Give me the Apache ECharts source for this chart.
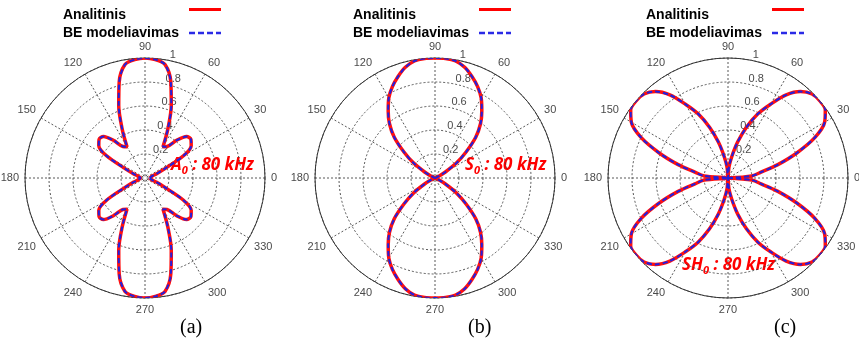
<!DOCTYPE html>
<html><head><meta charset="utf-8">
<script src="https://cdn.jsdelivr.net/npm/echarts@6/dist/echarts.min.js"></script>
<style>html,body{margin:0;padding:0;background:#fff}#c{width:859px;height:340px}</style>
</head><body><div id="c"></div>
<script>
// angle samples (degrees)
const angles = [0,5,10,15,20,25,30,35,40,45,50,55,60,65,70,75,80,85,90,
  95,100,105,110,115,120,125,130,135,140,145,150,155,160,165,170,175,180,
  185,190,195,200,205,210,215,220,225,230,235,240,245,250,255,260,265,270,
  275,280,285,290,295,300,305,310,315,320,325,330,335,340,345,350,355,360];

// (a) A0 mode, normalized amplitude
const a0Values = [0.04,0.04,0.05,0.06,0.10,0.18,0.37,0.47,0.50,0.49,0.41,0.32,0.30,0.45,0.64,0.83,0.96,0.99,1.00,
  0.99,0.96,0.83,0.64,0.45,0.30,0.32,0.41,0.49,0.50,0.47,0.37,0.18,0.10,0.06,0.05,0.04,0.04,
  0.04,0.05,0.06,0.10,0.18,0.37,0.47,0.50,0.49,0.41,0.32,0.30,0.45,0.64,0.83,0.96,0.99,1.00,
  0.99,0.96,0.83,0.64,0.45,0.30,0.32,0.41,0.49,0.50,0.47,0.37,0.18,0.10,0.06,0.05,0.04,0.04];
// (b) S0 mode
const s0Values = [0.00,0.00,0.00,0.00,0.01,0.03,0.10,0.22,0.34,0.48,0.59,0.68,0.77,0.84,0.90,0.955,0.99,1.00,1.00,
  1.00,0.99,0.955,0.90,0.84,0.77,0.68,0.59,0.48,0.34,0.22,0.10,0.03,0.01,0.00,0.00,0.00,0.00,
  0.00,0.00,0.00,0.01,0.03,0.10,0.22,0.34,0.48,0.59,0.68,0.77,0.84,0.90,0.955,0.99,1.00,1.00,
  1.00,0.99,0.955,0.90,0.84,0.77,0.68,0.59,0.48,0.34,0.22,0.10,0.03,0.01,0.00,0.00,0.00,0.00];
// (c) SH0 mode
const sh0Values = [0.00,0.20,0.28,0.43,0.61,0.80,0.93,0.99,1.00,0.99,0.94,0.845,0.71,0.59,0.45,0.31,0.18,0.09,0.00,
  0.09,0.18,0.31,0.45,0.59,0.71,0.845,0.94,0.99,1.00,0.99,0.93,0.80,0.61,0.43,0.28,0.20,0.00,
  0.20,0.28,0.43,0.61,0.80,0.93,0.99,1.00,0.99,0.94,0.845,0.71,0.59,0.45,0.31,0.18,0.09,0.00,
  0.09,0.18,0.31,0.45,0.59,0.71,0.845,0.94,0.99,1.00,0.99,0.93,0.80,0.61,0.43,0.28,0.20,0.00];

const angleTickLabels = ['0','30','60','90','120','150','180','210','240','270','300','330'];
const radiusTickLabels = ['','0.2','0.4','0.6','0.8','1'];
const seriesNames = ['Analitinis','BE modeliavimas'];
const panelLabels = ['(a)','(b)','(c)'];

const panels = [
  {values: a0Values, cx: 145, cy: 178, mode: 'A', tx: 171, ty: 168},
  {values: s0Values, cx: 435, cy: 178, mode: 'S', tx: 465, ty: 168},
  {values: sh0Values, cx: 728, cy: 178, mode: 'SH', tx: 682, ty: 268}
];
const R = 120;
const tickFont = {color: '#4a4a4a', fontSize: 11, fontFamily: 'Liberation Sans'};
const gridColor = '#3c3c3c';

const chart = echarts.init(document.getElementById('c'), null, {renderer: 'canvas'});
const polar = [], angleAxis = [], radiusAxis = [], series = [], legend = [], graphic = [];

panels.forEach((p, i) => {
  // main polar
  polar.push({center: [p.cx, p.cy], radius: R});
  angleAxis.push({
    polarIndex: 2*i, type: 'value', min: 0, max: 360, interval: 30, startAngle: 0, clockwise: false,
    axisLine: {show: true, lineStyle: {color: '#333', width: 1}},
    axisTick: {show: false},
    axisLabel: {show: true, margin: 6, ...tickFont,
      formatter: v => (v >= 360 ? '' : angleTickLabels[Math.round(v/30)])},
    splitLine: {show: true, lineStyle: {color: gridColor, type: [2,2], width: 1, opacity: 0.85}}
  });
  radiusAxis.push({
    polarIndex: 2*i, type: 'value', min: 0, max: 1, interval: 0.2,
    axisLine: {show: false}, axisTick: {show: false}, axisLabel: {show: false},
    splitLine: {show: true, lineStyle: {color: gridColor, type: [2,2], width: 1, opacity: 0.85}}
  });
  // overlay polar for radial tick labels
  polar.push({center: [p.cx, p.cy], radius: R});
  angleAxis.push({polarIndex: 2*i+1, type: 'value', min: 0, max: 360, startAngle: 80, clockwise: false, show: false});
  radiusAxis.push({
    polarIndex: 2*i+1, type: 'value', min: 0, max: 1, interval: 0.2,
    axisLine: {show: false}, axisTick: {show: false}, splitLine: {show: false},
    axisLabel: {show: true, margin: -4, align: 'left', verticalAlign: 'bottom', ...tickFont,
      formatter: v => radiusTickLabels[Math.round(v/0.2)]}
  });
  const data = angles.map((a, k) => [p.values[k], a]);
  series.push({
    name: seriesNames[0], type: 'line', coordinateSystem: 'polar', polarIndex: 2*i,
    data: data, symbol: 'none', smooth: 0.3, lineStyle: {color: '#ff1010', width: 3.5}, itemStyle: {color: '#ff1010'}, z: 2
  });
  series.push({
    name: seriesNames[1], type: 'line', coordinateSystem: 'polar', polarIndex: 2*i,
    data: data, symbol: 'none', smooth: 0.3, lineStyle: {color: '#2020e0', width: 2, type: [5,3]}, itemStyle: {color: '#2020e0'}, z: 3
  });
  legend.push({
    data: [
      {name: seriesNames[0], icon: 'path://M0,0h32v3h-32z M31.99,13.99h0.01v0.01h-0.01z', itemStyle: {color: '#ff0000'}},
      {name: seriesNames[1], icon: 'path://M0,0h6v2.5h-6z M9,0h6v2.5h-6z M18,0h6v2.5h-6z M27,0h5v2.5h-5z', itemStyle: {color: '#2a2ae6'}}
    ],
    orient: 'vertical', align: 'right', padding: 0,
    left: p.cx - 82, top: 8, itemGap: 4, itemWidth: 32, itemHeight: 14, selectedMode: false,
    formatter: n => '{t|' + n + '}',
    textStyle: {rich: {t: {width: 121, align: 'left', fontSize: 14, fontWeight: 'bold', color: '#000', fontFamily: 'Liberation Sans'}}}
  });
  graphic.push({
    type: 'text', left: p.tx, top: p.ty - 11,
    style: {
      text: '{m|' + p.mode + '}{s|0}{m| : 80 kHz}',
      rich: {
        m: {fontSize: 17, fontWeight: 'bold', fontStyle: 'italic', fill: '#ff0000', fontFamily: 'Open Sans', lineHeight: 22},
        s: {fontSize: 11, fontWeight: 'bold', fontStyle: 'italic', fill: '#ff0000', fontFamily: 'Open Sans', verticalAlign: 'bottom', lineHeight: 22}
      }
    }
  });
  graphic.push({
    type: 'text', left: p.cx + [35, 33, 46][i], top: 318,
    style: {text: panelLabels[i], fontSize: 20, fill: '#000', fontFamily: 'Liberation Serif'}
  });
});

chart.setOption({
  backgroundColor: '#fff', animation: false,
  polar, angleAxis, radiusAxis, series, legend, graphic
});
</script></body></html>
